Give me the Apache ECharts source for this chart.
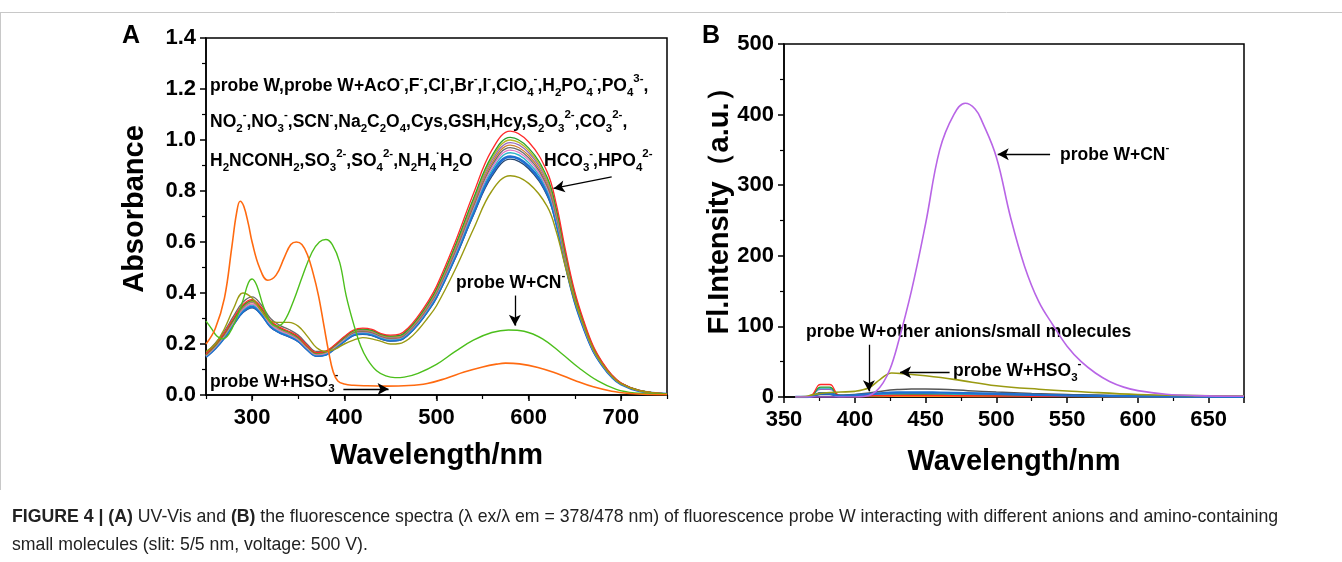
<!DOCTYPE html>
<html><head><meta charset="utf-8">
<script src="https://cdn.jsdelivr.net/npm/echarts@6/dist/echarts.min.js"></script>
<style>html,body{margin:0;padding:0;background:#fff}#c{width:1342px;height:562px}</style>
</head><body><div id="c"></div>
<script>
// ---------- Panel A : UV-Vis absorbance ----------
const wlA = [250,260,270,280,290,300,310,320,330,340,350,360,370,380,390,400,410,420,430,440,450,460,470,480,490,500,520,540,560,580,600,620,630,640,650,660,670,680,690,700,720,750];
const aRed    = [.161,.198,.244,.302,.354,.374,.343,.291,.265,.25,.229,.192,.166,.172,.198,.229,.255,.262,.257,.241,.235,.239,.266,.309,.362,.426,.597,.789,.96,1.035,.992,.875,.747,.566,.405,.288,.192,.128,.08,.048,.018,.004];
const aGreen  = [.159,.195,.241,.297,.349,.37,.339,.288,.262,.247,.226,.19,.164,.17,.195,.226,.252,.258,.253,.238,.231,.234,.26,.302,.354,.416,.583,.77,.937,1.01,.968,.854,.729,.552,.396,.281,.187,.125,.078,.047,.018,.004];
const aYellow = [.158,.194,.24,.296,.347,.368,.337,.286,.26,.245,.225,.189,.163,.169,.194,.225,.25,.256,.251,.236,.229,.232,.258,.299,.351,.412,.577,.763,.928,1.0,.959,.845,.722,.546,.392,.278,.186,.124,.077,.046,.018,.004];
const aPurple = [.157,.192,.238,.294,.344,.365,.334,.284,.258,.243,.223,.188,.162,.168,.193,.224,.249,.255,.25,.235,.227,.23,.255,.296,.347,.408,.572,.756,.919,.99,.95,.837,.715,.541,.388,.276,.184,.123,.077,.046,.017,.004];
const aBrown  = [.156,.191,.236,.292,.342,.362,.332,.282,.257,.242,.222,.187,.161,.167,.192,.223,.247,.253,.248,.233,.224,.227,.253,.293,.343,.404,.566,.747,.909,.98,.939,.828,.707,.535,.384,.273,.182,.121,.076,.045,.017,.004];
const aGray   = [.166,.203,.251,.31,.364,.385,.353,.3,.273,.257,.235,.198,.171,.172,.195,.222,.245,.25,.245,.23,.222,.225,.25,.29,.34,.40,.56,.74,.90,.97,.93,.82,.70,.53,.38,.27,.18,.12,.075,.045,.017,.004];
const aPink   = [.154,.188,.233,.287,.337,.356,.327,.277,.252,.238,.218,.183,.158,.164,.189,.218,.243,.248,.243,.228,.22,.223,.248,.287,.337,.396,.554,.733,.891,.96,.921,.812,.693,.525,.376,.267,.178,.119,.074,.045,.017,.004];
const aCyan   = [.152,.186,.23,.284,.333,.353,.323,.274,.25,.235,.216,.181,.157,.162,.187,.216,.24,.245,.24,.225,.217,.22,.245,.284,.333,.392,.548,.725,.881,.95,.911,.803,.685,.519,.372,.264,.176,.117,.073,.044,.017,.004];
const aBlue   = [.15,.183,.226,.279,.327,.346,.317,.269,.245,.231,.212,.178,.154,.159,.184,.212,.236,.241,.236,.222,.214,.217,.241,.28,.328,.386,.54,.713,.868,.935,.897,.791,.675,.511,.366,.26,.174,.116,.072,.043,.016,.004];
const aNavy   = [.148,.181,.224,.276,.323,.342,.314,.266,.243,.228,.209,.176,.152,.157,.182,.209,.233,.238,.233,.219,.211,.214,.238,.276,.324,.381,.533,.705,.857,.925,.887,.782,.667,.505,.362,.257,.171,.114,.071,.043,.016,.004];
const aOlive  = [.17,.2,.26,.34,.40,.38,.33,.29,.285,.285,.27,.23,.185,.17,.18,.20,.215,.225,.22,.21,.20,.202,.22,.255,.30,.35,.49,.65,.80,.86,.83,.74,.64,.50,.37,.27,.18,.12,.075,.045,.017,.004];
// probe W + HSO3-
const aHsX = [250,260,270,278,283,287,291,296,300,308,317,326,335,342,348,354,360,366,372,378,383,388,393,400,410,425,445,470,490,510,530,550,565,575,590,610,630,650,670,690,710,730,750];
const aHsY = [0.2,0.26,0.38,0.58,0.71,0.76,0.74,0.67,0.6,0.5,0.45,0.47,0.54,0.59,0.6,0.59,0.55,0.48,0.39,0.27,0.17,0.09,0.055,0.043,0.038,0.036,0.035,0.037,0.045,0.065,0.09,0.11,0.121,0.125,0.122,0.108,0.085,0.057,0.032,0.015,0.006,0.002,0.001];
// probe W + CN-
const aCnX = [250,256,262,268,275,283,290,296,300,305,312,320,327,335,345,355,365,373,380,387,395,402,410,418,425,435,445,455,465,480,500,520,540,560,578,595,615,635,655,675,695,715,750];
const aCnY = [0.29,0.26,0.23,0.22,0.24,0.3,0.37,0.44,0.455,0.43,0.35,0.285,0.27,0.29,0.37,0.47,0.56,0.6,0.61,0.59,0.52,0.39,0.28,0.19,0.14,0.095,0.075,0.068,0.07,0.085,0.12,0.17,0.215,0.245,0.255,0.25,0.22,0.165,0.105,0.055,0.022,0.008,0.002];
const aXTicks = [300,400,500,600,700];

// ---------- Panel B : fluorescence ----------
const bCnX = [358,400,405,410,415,420,425,430,440,450,460,470,478,485,490,500,510,520,530,540,550,560,570,580,590,600,620,640,675];
const bCnY = [0,0,0.5,2,8,20,40,72,150,245,350,400,416,408,390,340,255,185,135,102,72,50,34,22,14,9,4,2,1];
const bHsX = [358,365,370,380,390,400,410,418,426,435,450,470,500,530,560,600,640,675];
const bHsY = [0,0.5,3,6,7,8,13,25,34,33,30,25,16,11,7.5,3.5,2,1.5];
const wlB = [358,366,370,374,376,382,384,388,392,400,410,420,430,440,450,460,480,500,525,550,600,675];
const bRed    = [0,0,3,16,17.7,17.7,16,3,1.5,1.5,1.8,2,2.2,2.3,2.3,2.2,1.8,1.4,1,0.8,0.5,0.3];
const bGreen  = [0,0,2.5,12.5,14,14,12.5,2.5,1.2,1.2,1.5,2,2.5,2.8,2.8,2.6,2.1,1.6,1.2,0.9,0.5,0.3];
const bCyan   = [0,0,2,11,12.5,12.5,11,2,1,1,2,3,3.6,3.8,3.7,3.5,3,2.4,1.8,1.3,0.7,0.3];
const bViolet = [0,0,1.8,10,11,11,10,1.8,1,1.2,2,3,3.5,3.7,3.6,3.4,2.8,2.2,1.6,1.2,0.6,0.3];
const bGray   = [0,0,1.5,5,6,6,5,3,3,3.5,5.5,8.5,10.5,11.5,11.5,11,9,7,5,3.5,1.5,0.5];
const bBlue   = [0,0,1,4,5,5,4,1.5,1.5,2.5,4,5.5,6.3,6.5,6.4,6.2,5.5,4.5,3.2,2.2,1,0.4];
const bTeal   = [0,0,1,5,6,6,5,1,1,1.8,3,4,4.6,4.8,4.7,4.5,4,3.3,2.4,1.7,0.8,0.3];
const bOrange = [0,0,1,5,6,6,5,1,0.5,0.5,0.6,0.7,0.8,0.8,0.8,0.8,0.7,0.6,0.5,0.4,0.3,0.2];
const bNavy   = [0,0,0.8,3,3.5,3.5,3,1,1,1.5,2.5,3.2,3.6,3.8,3.7,3.5,3,2.5,1.8,1.3,0.6,0.2];

const F = "'Liberation Sans', Arial, Helvetica, sans-serif";
const pairs = (xs, ys) => xs.map((x, i) => [x, ys[i]]);
function line(name, xs, ys, color, gi, w, z) {
  return { name, type: 'line', xAxisIndex: gi === 0 ? 0 : 2, yAxisIndex: gi,
    data: pairs(xs, ys), showSymbol: false, symbol: 'none', smooth: 0.4,
    lineStyle: { color, width: w || 1.3 }, z: z || 2, animation: false, silent: true };
}

const series = [
  line('Navy', wlA, aNavy, '#26456e', 0, 1.3),
  line('Blue', wlA, aBlue, '#1f6fd0', 0, 2.6),
  line('Cyan', wlA, aCyan, '#2bb5c8', 0),
  line('Pink', wlA, aPink, '#e377c2', 0),
  line('Gray', wlA, aGray, '#6b6b6b', 0),
  line('Brown', wlA, aBrown, '#cd7f32', 0),
  line('Purple', wlA, aPurple, '#9467bd', 0),
  line('Yellow', wlA, aYellow, '#b8b820', 0),
  line('Green', wlA, aGreen, '#2ca02c', 0),
  line('Red', wlA, aRed, '#ff2a2a', 0),
  line('Olive', wlA, aOlive, '#9a9a12', 0, 1.4),
  line('CN', aCnX, aCnY, '#4cbf1c', 0, 1.4),
  line('HSO3', aHsX, aHsY, '#ff6a10', 0, 1.6),
  {
    type: 'line', xAxisIndex: 0, yAxisIndex: 0, data: [], silent: true, animation: false,
    markLine: { silent: true, animation: false, symbol: ['none', 'arrow'], symbolSize: [9, 11],
      label: { show: false }, lineStyle: { color: '#000', width: 1.3, type: 'solid' },
      data: [
        [{ coord: [690, 0.855] }, { coord: [627, 0.81] }],
        [{ coord: [585, 0.39] }, { coord: [585, 0.272] }],
        [{ coord: [399, 0.024] }, { coord: [448, 0.024] }]
      ] }
  },
  line('bNavy', wlB, bNavy, '#26456e', 1),
  line('bOrange', wlB, bOrange, '#ff7f0e', 1),
  line('bTeal', wlB, bTeal, '#2ca0a0', 1),
  line('bViolet', wlB, bViolet, '#9467bd', 1),
  line('bCyan', wlB, bCyan, '#2bb5c8', 1),
  line('bGreen', wlB, bGreen, '#2ca02c', 1),
  line('bRed', wlB, bRed, '#ff2a2a', 1),
  line('bGray', wlB, bGray, '#555555', 1, 1.5),
  line('bBlue', wlB, bBlue, '#1f6fd0', 1, 2.4),
  line('bHSO3', bHsX, bHsY, '#9a9a12', 1, 1.6),
  line('bCN', bCnX, bCnY, '#b865e6', 1, 1.6),
  {
    type: 'line', xAxisIndex: 2, yAxisIndex: 1, data: [], silent: true, animation: false,
    markLine: { silent: true, animation: false, symbol: ['none', 'arrow'], symbolSize: [9, 11],
      label: { show: false }, lineStyle: { color: '#000', width: 1.3, type: 'solid' },
      data: [
        [{ coord: [538, 344] }, { coord: [501, 344] }],
        [{ coord: [410, 74] }, { coord: [410, 8] }],
        [{ coord: [467, 35] }, { coord: [432, 35] }]
      ] }
  }
];

const lbl = { fontSize: 22, fontWeight: 'bold', color: '#000', fontFamily: F };
const nameStyle = { fontSize: 29, fontWeight: 'bold', color: '#000', fontFamily: F };
const axLine = { show: true, onZero: false, lineStyle: { color: '#000', width: 1.5 } };

const rich = {
  n: { fontSize: 17.5, fontWeight: 'bold', fontFamily: F, fill: '#000', color: '#000', lineHeight: 26 },
  sup: { fontSize: 11.5, fontWeight: 'bold', fontFamily: F, fill: '#000', color: '#000', verticalAlign: 'top', lineHeight: 15 },
  sub: { fontSize: 11.5, fontWeight: 'bold', fontFamily: F, fill: '#000', color: '#000', verticalAlign: 'bottom', lineHeight: 15 }
};
function ann(x, y, text) {
  return { type: 'text', left: x, top: y - 13, silent: true,
    style: { text, rich, fontSize: 17.5, fontWeight: 'bold', fontFamily: F, fill: '#000' } };
}
function vName(x, y, text, size) {
  return { type: 'text', x, y, rotation: Math.PI / 2, silent: true,
    style: { text, align: 'center', verticalAlign: 'middle', fontSize: size, fontWeight: 'bold', fontFamily: F, fill: '#000' } };
}
const capRich = {
  r: { fontSize: 17.7, fontFamily: F, fill: '#222', color: '#222' },
  b: { fontSize: 17.7, fontFamily: F, fontWeight: 'bold', fill: '#222', color: '#222' }
};

const option = {
  backgroundColor: '#fff',
  animation: false,
  grid: [
    { left: 206, top: 38, right: 675, bottom: 167, show: true, borderColor: '#000', borderWidth: 1.5, backgroundColor: 'transparent' },
    { left: 784, top: 44, right: 98, bottom: 165, show: true, borderColor: '#000', borderWidth: 1.5, backgroundColor: 'transparent' }
  ],
  xAxis: [
    { gridIndex: 0, type: 'value', min: 250, max: 750, position: 'bottom',
      axisLine: axLine, splitLine: { show: false },
      axisTick: { show: true, customValues: aXTicks, length: 6, lineStyle: { color: '#000', width: 1.5 } },
      axisLabel: Object.assign({ customValues: aXTicks, margin: 12 }, lbl),
      name: 'Wavelength/nm', nameLocation: 'middle', nameGap: 46, nameTextStyle: nameStyle },
    { gridIndex: 0, type: 'value', min: 250, max: 750, interval: 50, position: 'bottom', offset: 0,
      axisLine: { show: false }, splitLine: { show: false },
      axisTick: { show: true, length: 4, lineStyle: { color: '#000', width: 1.2 } },
      axisLabel: { show: false } },
    { gridIndex: 1, type: 'value', min: 350, max: 675, interval: 50, position: 'bottom',
      axisLine: axLine, splitLine: { show: false },
      axisTick: { show: true, length: 6, lineStyle: { color: '#000', width: 1.5 } },
      minorTick: { show: true, splitNumber: 2, length: 4, lineStyle: { color: '#000', width: 1.2 } },
      axisLabel: Object.assign({ margin: 12, formatter: v => (v > 650 ? '' : String(v)) }, lbl),
      name: 'Wavelength/nm', nameLocation: 'middle', nameGap: 50, nameTextStyle: nameStyle }
  ],
  yAxis: [
    { gridIndex: 0, type: 'value', min: 0, max: 1.4, interval: 0.2,
      axisLine: axLine, splitLine: { show: false },
      axisTick: { show: true, length: 6, lineStyle: { color: '#000', width: 1.5 } },
      minorTick: { show: true, splitNumber: 2, length: 4, lineStyle: { color: '#000', width: 1.2 } },
      axisLabel: Object.assign({ margin: 10, formatter: v => v.toFixed(1) }, lbl) },
    { gridIndex: 1, type: 'value', min: 0, max: 500, interval: 100,
      axisLine: axLine, splitLine: { show: false },
      axisTick: { show: true, length: 6, lineStyle: { color: '#000', width: 1.5 } },
      minorTick: { show: true, splitNumber: 2, length: 4, lineStyle: { color: '#000', width: 1.2 } },
      axisLabel: Object.assign({ margin: 10 }, lbl) }
  ],
  series,
  graphic: [
    { type: 'line', silent: true, shape: { x1: 0, y1: 12.5, x2: 1342, y2: 12.5 }, style: { stroke: '#c8c8c8', lineWidth: 1 } },
    { type: 'line', silent: true, shape: { x1: 0.5, y1: 12, x2: 0.5, y2: 490 }, style: { stroke: '#c8c8c8', lineWidth: 1 } },
    { type: 'text', left: 122, top: 24, silent: true, style: { text: 'A', fontSize: 25, fontWeight: 'bold', fontFamily: F, fill: '#000' } },
    { type: 'text', left: 702, top: 24, silent: true, style: { text: 'B', fontSize: 25, fontWeight: 'bold', fontFamily: F, fill: '#000' } },
    vName(135, 209, 'Absorbance', 29),
    vName(720, 204, 'Fl.Intensity（a.u.）', 29),
    ann(210, 86, '{n|probe W,probe W+AcO}{sup|-}{n|,F}{sup|-}{n|,Cl}{sup|-}{n|,Br}{sup|-}{n|,I}{sup|-}{n|,ClO}{sub|4}{sup|-}{n|,H}{sub|2}{n|PO}{sub|4}{sup|-}{n|,PO}{sub|4}{sup|3-}{n|,}'),
    ann(210, 122, '{n|NO}{sub|2}{sup|-}{n|,NO}{sub|3}{sup|-}{n|,SCN}{sup|-}{n|,Na}{sub|2}{n|C}{sub|2}{n|O}{sub|4}{n|,Cys,GSH,Hcy,S}{sub|2}{n|O}{sub|3}{sup|2-}{n|,CO}{sub|3}{sup|2-}{n|,}'),
    ann(210, 161, '{n|H}{sub|2}{n|NCONH}{sub|2}{n|,SO}{sub|3}{sup|2-}{n|,SO}{sub|4}{sup|2-}{n|,N}{sub|2}{n|H}{sub|4}{sup|·}{n|H}{sub|2}{n|O}'),
    ann(544, 161, '{n|HCO}{sub|3}{sup|-}{n|,HPO}{sub|4}{sup|2-}'),
    ann(456, 283, '{n|probe W+CN}{sup|-}'),
    ann(210, 382, '{n|probe W+HSO}{sub|3}{sup|-}'),
    ann(1060, 155, '{n|probe W+CN}{sup|-}'),
    ann(806, 336, '{n|probe W+other anions/small molecules}'),
    ann(953, 371, '{n|probe W+HSO}{sub|3}{sup|-}'),
    { type: 'text', left: 12, top: 503, silent: true,
      style: { rich: capRich, lineHeight: 28,
        text: '{b|FIGURE 4 | (A)}{r| UV-Vis and }{b|(B)}{r| the fluorescence spectra (λ ex/λ em = 378/478 nm) of fluorescence probe W interacting with different anions and amino-containing}\n{r|small molecules (slit: 5/5 nm, voltage: 500 V).}' } }
  ]
};
const chart = echarts.init(document.getElementById('c'), null, { renderer: 'canvas' });
chart.setOption(option);
</script></body></html>
